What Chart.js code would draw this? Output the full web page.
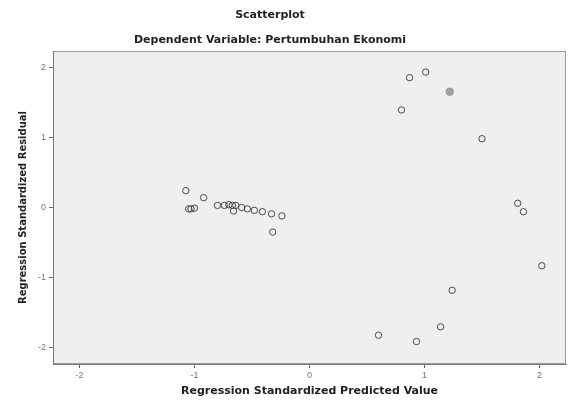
<!DOCTYPE html>
<html>
<head>
<meta charset="utf-8">
<script src="https://cdn.jsdelivr.net/npm/chart.js@4"></script>
<style>
    html, body { margin: 0; padding: 0; background: #fff; }
    #wrap { width: 571px; height: 401px; }
</style>
</head>
<body>
<div id="wrap"><canvas id="grafico"></canvas></div>
<script>
// standardized predicted value (x) and standardized residual (y)
const predicted = [-1.075, -0.92, -1.05, -1.03, -1.00, -0.80, -0.74, -0.70, -0.67, -0.64,
    -0.66, -0.59, -0.54, -0.48, -0.41, -0.33, -0.24, -0.32,
    0.80, 0.87, 1.01, 1.50, 1.81, 1.86, 2.02, 1.24, 1.14, 0.60, 0.93];
const residual = [0.24, 0.14, -0.02, -0.02, -0.01, 0.03, 0.03, 0.04, 0.03, 0.03,
    -0.05, 0.00, -0.02, -0.04, -0.06, -0.09, -0.12, -0.35,
    1.39, 1.85, 1.93, 0.98, 0.06, -0.06, -0.83, -1.18, -1.70, -1.82, -1.91];
// the one shaded point
const shadedX = [1.22];
const shadedY = [1.65];
const tickValues = [-2, -1, 0, 1, 2];

const titulo = 'Scatterplot';
const subtitulo = 'Dependent Variable: Pertumbuhan Ekonomi';

const pontos = predicted.map((x, i) => ({ x: x, y: residual[i] }));
const sombreado = shadedX.map((x, i) => ({ x: x, y: shadedY[i] }));

const fundo = {
    id: 'fundo',
    beforeDraw(chart) {
        const a = chart.chartArea;
        const ctx = chart.ctx;
        ctx.save();
        ctx.fillStyle = '#efefef';
        ctx.fillRect(a.left, a.top, a.right - a.left, a.bottom - a.top);
        ctx.strokeStyle = '#9a9a9a';
        ctx.lineWidth = 1;
        ctx.strokeRect(a.left + 0.5, a.top + 0.5, a.right - a.left - 1, a.bottom - a.top - 1);
        ctx.restore();
    },
    // SPSS puts the titles a bit left of the plot centre
    afterDraw(chart) {
        const ctx = chart.ctx;
        ctx.save();
        ctx.fillStyle = '#222';
        ctx.textAlign = 'center';
        ctx.textBaseline = 'middle';
        ctx.font = 'bold 11px "DejaVu Sans"';
        ctx.fillText(titulo, 270, 15);
        ctx.fillText(subtitulo, 270, 40);
        ctx.restore();
    }
};

const eixo = function (texto, tamanho) {
    return {
        type: 'linear',
        min: -2.23,
        max: 2.23,
        afterBuildTicks: function (scale) {
            scale.ticks = tickValues.map(v => ({ value: v }));
        },
        grid: { drawOnChartArea: false, drawTicks: true, tickLength: 4, color: '#666' },
        border: { color: '#7a7a7a', width: 1 },
        ticks: {
            color: '#777',
            padding: 2,
            font: { family: 'Liberation Sans', size: 9 }
        },
        title: {
            display: true,
            text: texto,
            color: '#222',
            font: { family: 'DejaVu Sans', size: tamanho, weight: 'bold' }
        }
    };
};

const escalaX = eixo('Regression Standardized Predicted Value', 11);
escalaX.title.padding = { top: 0, bottom: 1 };
escalaX.afterFit = function (scale) { scale.height = 35; };

const escalaY = eixo('Regression Standardized Residual', 10);
escalaY.title.padding = { top: 7, bottom: 0 };
escalaY.ticks.padding = 3;
escalaY.afterFit = function (scale) { scale.width = 43; };

new Chart(document.getElementById('grafico').getContext('2d'), {
    type: 'scatter',
    data: {
        datasets: [{
            label: 'Residual',
            data: pontos,
            pointRadius: 3.2,
            pointBorderWidth: 1,
            borderColor: '#4a4a4a',
            backgroundColor: 'rgba(0,0,0,0)'
        }, {
            label: 'Shaded',
            data: sombreado,
            pointRadius: 3.8,
            pointBorderWidth: 1,
            borderColor: '#9a9a9a',
            backgroundColor: '#a0a0a0'
        }]
    },
    plugins: [fundo],
    options: {
        responsive: true,
        maintainAspectRatio: false,
        animation: false,
        layout: { padding: { left: 10, right: 3, top: 51, bottom: 2 } },
        plugins: {
            legend: { display: false },
            tooltip: { enabled: false }
        },
        scales: {
            x: escalaX,
            y: escalaY
        }
    }
});
</script>
</body>
</html>
